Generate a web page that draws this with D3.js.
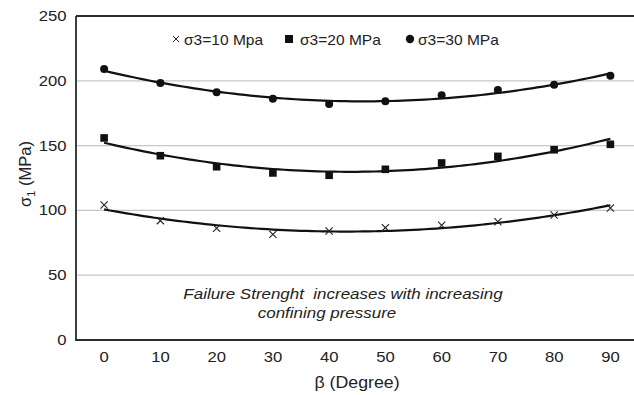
<!DOCTYPE html>
<html>
<head>
<meta charset="utf-8">
<script src="https://cdn.jsdelivr.net/npm/d3@7"></script>
<style>
  html, body { margin: 0; padding: 0; background: #fff; }
  svg { display: block; font-family: "Liberation Sans", Arial, Helvetica, sans-serif; }
</style>
</head>
<body>
<svg id="chart" width="634" height="395"></svg>
<script>
// ---- data ----
const betaDegrees = [0, 10, 20, 30, 40, 50, 60, 70, 80, 90];
const sigma3_10 = [104.2, 92.1, 86.2, 81.5, 84.1, 86.7, 88.5, 91.3, 96.5, 101.9];
const sigma3_20 = [155.9, 142.2, 133.7, 128.9, 127.1, 131.7, 136.6, 141.7, 146.8, 151.0];
const sigma3_30 = [209.1, 198.3, 191.1, 186.2, 182.1, 184.2, 188.8, 192.9, 197.0, 203.9];
const yTicks = [0, 50, 100, 150, 200, 250];
const xTicks = [0, 10, 20, 30, 40, 50, 60, 70, 80, 90];
const seriesNames = ["σ3=10 Mpa", "σ3=20 MPa", "σ3=30 MPa"];
const noteLines = ["Failure Strenght  increases with increasing", "confining pressure"];

(function () {
// ---- layout ----
const svg = d3.select("#chart");
const pLeft = 76, pTop = 16, pBottom = 340, pRight = 638.5;
const x = d3.scaleLinear().domain([-5, 95]).range([pLeft, pRight]);
const y = d3.scaleLinear().domain([0, 250]).range([pBottom, pTop]);
const SX = 1.11; // source glyphs appear horizontally stretched

// quadratic least-squares trendline (as Excel polynomial order 2)
function quadFit(xs, ys) {
  const n = xs.length;
  const s = [0,0,0,0,0], t = [0,0,0];
  for (let i = 0; i < n; i++) {
    const xi = xs[i], yi = ys[i];
    for (let k = 0; k < 5; k++) s[k] += Math.pow(xi, k);
    for (let k = 0; k < 3; k++) t[k] += yi * Math.pow(xi, k);
  }
  const A = [[s[0], s[1], s[2], t[0]], [s[1], s[2], s[3], t[1]], [s[2], s[3], s[4], t[2]]];
  for (let i = 0; i < 3; i++) {
    let p = i;
    for (let r = i + 1; r < 3; r++) if (Math.abs(A[r][i]) > Math.abs(A[p][i])) p = r;
    const tmp = A[i]; A[i] = A[p]; A[p] = tmp;
    for (let r = 0; r < 3; r++) {
      if (r === i) continue;
      const f = A[r][i] / A[i][i];
      for (let c = i; c < 4; c++) A[r][c] -= f * A[i][c];
    }
  }
  const c0 = A[0][3] / A[0][0], c1 = A[1][3] / A[1][1], c2 = A[2][3] / A[2][2];
  return v => c0 + c1 * v + c2 * v * v;
}

// gridlines
svg.append("g").selectAll("line").data(yTicks.filter(d => d > 0 && d < 250)).join("line")
  .attr("x1", pLeft).attr("x2", 634)
  .attr("y1", d => y(d)).attr("y2", d => y(d))
  .attr("stroke", "#c6c6c6").attr("stroke-width", 1.2);

// frame
svg.append("path")
  .attr("d", `M${pLeft},${y(250)} L634,${y(250)} M${pLeft},${y(250)} L${pLeft},${y(0)} L634,${y(0)}`)
  .attr("fill", "none").attr("stroke", "#2b2b2b").attr("stroke-width", 1.8);

// y tick labels
svg.append("g").selectAll("text").data(yTicks).join("text")
  .attr("transform", d => `translate(66.5,${y(d) + 5}) scale(${SX},1)`)
  .attr("text-anchor", "end").attr("font-size", 15).attr("fill", "#222")
  .text(d => d);

// x tick labels
svg.append("g").selectAll("text").data(xTicks).join("text")
  .attr("transform", d => `translate(${x(d)},362) scale(${SX},1)`)
  .attr("text-anchor", "middle").attr("font-size", 15).attr("fill", "#222")
  .text(d => d);

// axis titles
svg.append("text").attr("transform", `translate(357,388) scale(${SX},1)`).attr("text-anchor", "middle")
  .attr("font-size", 16).attr("fill", "#222").text("β (Degree)");
const yt = svg.append("text").attr("transform", "translate(31,174) rotate(-90)")
  .attr("text-anchor", "middle").attr("font-size", 16.5).attr("fill", "#222");
yt.append("tspan").text("σ");
yt.append("tspan").attr("font-size", 11).attr("dy", 4).text("1");
yt.append("tspan").attr("dy", -4).text(" (MPa)");

// trendlines
const series = [sigma3_10, sigma3_20, sigma3_30];
const fine = d3.range(0, 90.01, 1);
series.forEach(vals => {
  const f = quadFit(betaDegrees, vals);
  svg.append("path")
    .attr("d", d3.line().x(d => x(d)).y(d => y(f(d)))(fine))
    .attr("fill", "none").attr("stroke", "#111").attr("stroke-width", 2.2);
});

// markers
const g10 = svg.append("g");
betaDegrees.forEach((b, i) => {
  const cx = x(b), cy = y(sigma3_10[i]), r = 3.6;
  g10.append("path").attr("d", `M${cx-r},${cy-r}L${cx+r},${cy+r}M${cx-r},${cy+r}L${cx+r},${cy-r}`)
    .attr("stroke", "#222").attr("stroke-width", 1.1);
});
svg.append("g").selectAll("rect").data(betaDegrees).join("rect")
  .attr("x", d => x(d) - 3.8).attr("y", (d, i) => y(sigma3_20[i]) - 3.8)
  .attr("width", 7.6).attr("height", 7.6).attr("fill", "#111");
svg.append("g").selectAll("circle").data(betaDegrees).join("circle")
  .attr("cx", d => x(d)).attr("cy", (d, i) => y(sigma3_30[i]))
  .attr("r", 4).attr("fill", "#111");

// legend
const lg = svg.append("g").attr("font-size", 14).attr("fill", "#222");
const legX = [184, 300, 418];
lg.append("path").attr("d", "M173,36L179,42M173,42L179,36").attr("stroke", "#222").attr("stroke-width", 1);
lg.append("rect").attr("x", 285).attr("y", 35).attr("width", 8).attr("height", 8).attr("fill", "#111");
lg.append("circle").attr("cx", 410).attr("cy", 39).attr("r", 4.2).attr("fill", "#111");
seriesNames.forEach((n, i) => {
  lg.append("text").attr("transform", `translate(${legX[i]},44.5) scale(${SX},1)`).text(n);
});

// annotation
svg.append("g").selectAll("text").data(noteLines).join("text")
  .attr("transform", (d, i) => `translate(${i === 0 ? 343 : 327},${299 + i * 18.5}) scale(1.13,1)`)
  .attr("text-anchor", "middle").attr("font-size", 15).attr("font-style", "italic")
  .attr("fill", "#222").style("white-space", "pre")
  .text(d => d);
})();
</script>
</body>
</html>
